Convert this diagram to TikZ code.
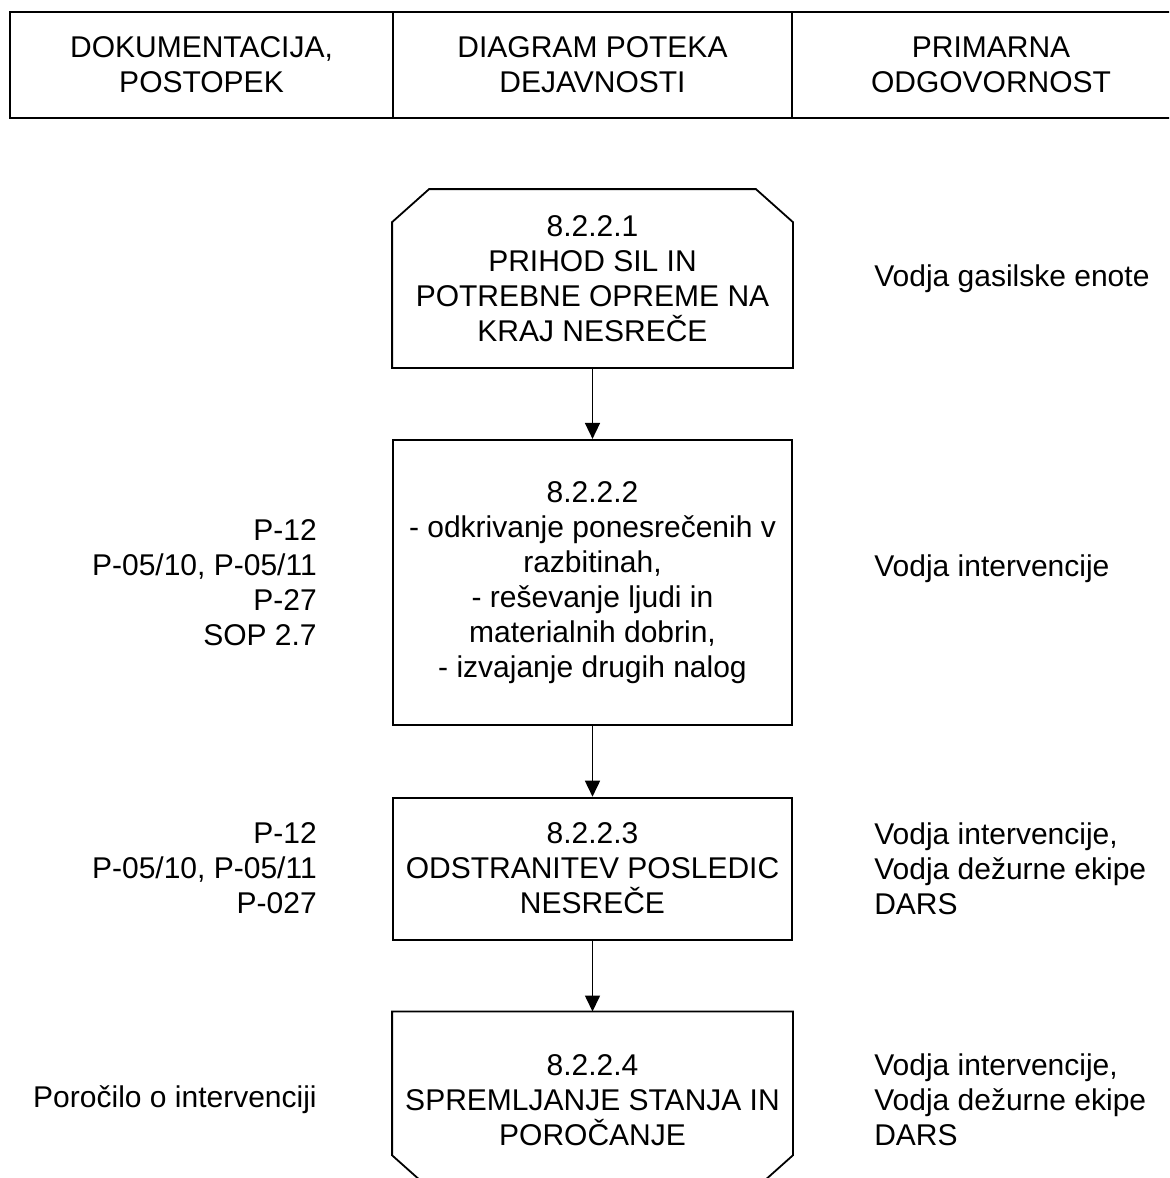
\documentclass[tikz,border=0pt]{standalone}
\usepackage{fontspec}
\setmainfont{Liberation Sans}
\usetikzlibrary{arrows.meta,positioning}

\begin{document}
\begin{tikzpicture}[
    x=0.5pt, y=-0.5pt,
    node distance=35.5pt,
    every node/.style={font=\fontsize{15pt}{17.5pt}\selectfont},
    cell/.style={rectangle, draw, line width=1pt, minimum height=53pt, inner sep=0pt, align=center},
    stepbox/.style={rectangle, minimum width=199.5pt, inner sep=0pt, align=center, line width=0.9pt},
    side/.style={inner sep=0pt},
    outline/.style={line width=0.9pt, line join=miter},
    arrow/.style={-{Triangle[width=7.5pt,length=8pt]}, line width=0.8pt}
]
\useasboundingbox (0,0) rectangle (1169,1178);
\clip (0,0) rectangle (1169,1178);

% header
\node[cell, minimum width=191.5pt] (hdoc) at (201.5,65) {DOKUMENTACIJA,\\POSTOPEK};
\node[cell, minimum width=199.5pt] (hflow) at (592.5,65) {DIAGRAM POTEKA\\DEJAVNOSTI};
\node[cell, minimum width=199pt] (hresp) at (991,65) {PRIMARNA\\ODGOVORNOST};

% flow
\node[stepbox, minimum height=88.5pt] (b1) at (592.5,278.5) {8.2.2.1\\PRIHOD SIL IN\\POTREBNE OPREME NA\\KRAJ NESREČE};
\node[stepbox, draw, minimum height=142.5pt, below=of b1] (b2) {8.2.2.2\\- odkrivanje ponesrečenih v\\razbitinah,\\- reševanje ljudi in\\materialnih dobrin,\\- izvajanje drugih nalog};
\node[stepbox, draw, minimum height=71pt, below=of b2] (b3) {8.2.2.3\\ODSTRANITEV POSLEDIC\\NESREČE};
\node[stepbox, minimum height=87.5pt, below=of b3] (b4) {8.2.2.4\\SPREMLJANJE STANJA IN\\POROČANJE};

\draw[outline] ([yshift=-16.5pt]b1.north west) -- ([xshift=18.5pt]b1.north west) -- ([xshift=-18.5pt]b1.north east) -- ([yshift=-16.5pt]b1.north east) -- (b1.south east) -- (b1.south west) -- cycle;
\draw[outline] ([yshift=16.5pt]b4.south west) -- ([xshift=18.5pt]b4.south west) -- ([xshift=-18.5pt]b4.south east) -- ([yshift=16.5pt]b4.south east) -- (b4.north east) -- (b4.north west) -- cycle;

\draw[arrow] (b1) -- (b2);
\draw[arrow] (b2) -- (b3);
\draw[arrow] (b3) -- (b4);

% documentation
\node[side, align=right, left=37.5pt of b2] (doc2) {P-12\\P-05/10, P-05/11\\P-27\\SOP 2.7};
\node[side, align=right, left=37.5pt of b3] (doc3) {P-12\\P-05/10, P-05/11\\P-027};
\node[side, align=right, left=37.5pt of b4] (doc4) {Poročilo o intervenciji};

% responsibility
\node[side, align=left, right=40.5pt of b1] (resp1) {Vodja gasilske enote};
\node[side, align=left, right=40.5pt of b2, yshift=7pt] (resp2) {Vodja intervencije};
\node[side, align=left, right=40.5pt of b3] (resp3) {Vodja intervencije,\\Vodja dežurne ekipe\\DARS};
\node[side, align=left, right=40.5pt of b4] (resp4) {Vodja intervencije,\\Vodja dežurne ekipe\\DARS};
\end{tikzpicture}
\end{document}
